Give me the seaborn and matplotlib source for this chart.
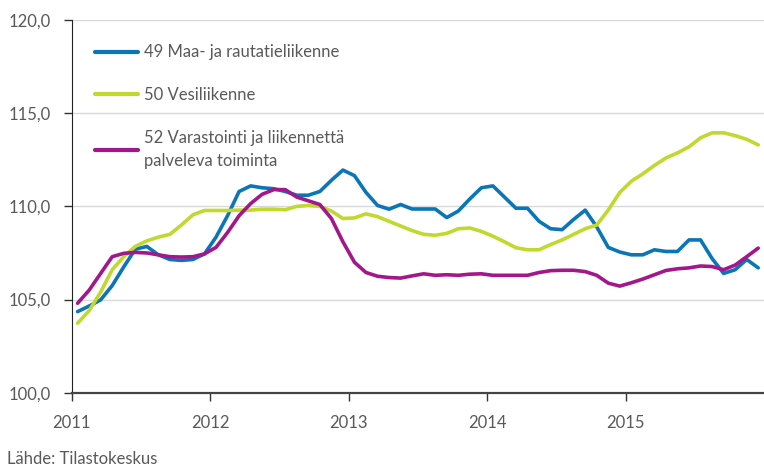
import numpy as np
import pandas as pd
import matplotlib
matplotlib.use("Agg")
import matplotlib.pyplot as plt
import seaborn as sns

# monthly index values 2011-01 ... 2015-12
months = pd.date_range("2011-01-01", periods=60, freq="MS")
labels = ["49 Maa- ja rautatieliikenne",
          "50 Vesiliikenne",
          "52 Varastointi ja liikennettä\npalveleva toiminta"]
colors = ["#0a76b8", "#c1d82f", "#a4168b"]

maa = [104.35, 104.65, 104.98, 105.75, 106.75, 107.7, 107.85, 107.4, 107.15, 107.1,
       107.15, 107.45, 108.35, 109.5, 110.8, 111.1, 111.0, 110.95, 110.8, 110.6,
       110.6, 110.8, 111.4, 111.95, 111.65, 110.75, 110.05, 109.85, 110.1, 109.86,
       109.86, 109.86, 109.4, 109.75, 110.4, 111.0, 111.1, 110.5, 109.9, 109.9,
       109.2, 108.8, 108.75, 109.3, 109.8, 108.9, 107.8, 107.55, 107.4, 107.4,
       107.67, 107.58, 107.58, 108.2, 108.2, 107.2, 106.4, 106.6, 107.15, 106.7]
vesi = [103.73, 104.4, 105.4, 106.6, 107.3, 107.85, 108.15, 108.35, 108.5, 109.0,
        109.55, 109.78, 109.78, 109.78, 109.8, 109.8, 109.85, 109.85, 109.82, 110.0,
        110.05, 110.0, 109.75, 109.35, 109.38, 109.6, 109.45, 109.2, 108.95, 108.7,
        108.5, 108.45, 108.55, 108.8, 108.84, 108.66, 108.4, 108.1, 107.78, 107.67,
        107.67, 107.95, 108.2, 108.5, 108.8, 109.0, 109.8, 110.75, 111.35, 111.75,
        112.2, 112.6, 112.87, 113.2, 113.68, 113.95, 113.95, 113.8, 113.6, 113.3]
varasto = [104.8, 105.5, 106.4, 107.3, 107.48, 107.53, 107.5, 107.4, 107.3, 107.28,
           107.3, 107.45, 107.8, 108.6, 109.5, 110.15, 110.65, 110.9, 110.9, 110.5,
           110.3, 110.1, 109.35, 108.1, 107.0, 106.45, 106.25, 106.18, 106.15, 106.27,
           106.38, 106.3, 106.33, 106.3, 106.36, 106.38, 106.3, 106.3, 106.3, 106.3,
           106.45, 106.55, 106.57, 106.57, 106.5, 106.3, 105.88, 105.72, 105.9, 106.1,
           106.33, 106.56, 106.65, 106.7, 106.8, 106.77, 106.6, 106.85, 107.3, 107.76]

years = ["2011", "2012", "2013", "2014", "2015"]
yticks = [100, 105, 110, 115, 120]

df = pd.DataFrame({"kk": np.arange(len(months)) + 0.5,
                   labels[0]: maa, labels[1]: vesi, labels[2]: varasto})
long = df.melt(id_vars="kk", var_name="sarja", value_name="indeksi")

sns.set_style("white")
plt.rcParams["font.family"] = ["Lato", "DejaVu Sans"]
grey = "#595959"

fig = plt.figure(figsize=(7.64, 4.68), dpi=100)
ax = fig.add_axes([0.094, 0.161, 0.906, 0.796])

sns.lineplot(data=long, x="kk", y="indeksi", hue="sarja", palette=colors,
             linewidth=2.6, ax=ax)

ax.set_xlim(0, 60)
ax.set_ylim(100, 120)
ax.set_xticks(np.arange(0, 60, 12))
ax.set_xticklabels(years)
ax.set_yticks(yticks)
ax.set_yticklabels([f"{v},0" for v in yticks])
ax.set_xlabel("")
ax.set_ylabel("")
ax.grid(axis="y", color="#d9d9d9", linewidth=1)
ax.set_axisbelow(True)
for s in ["top", "right"]:
    ax.spines[s].set_visible(False)
ax.spines["left"].set_color("#222222")
ax.spines["bottom"].set_color("#444444")
ax.spines["bottom"].set_linewidth(1.6)
ax.tick_params(axis="both", colors=grey, labelsize=12, length=6, width=1,
               direction="out", bottom=True, left=True)
ax.tick_params(axis="x", pad=10)
ax.tick_params(axis="y", pad=9)
ax.tick_params(axis="both", color="#333333")

leg = ax.legend(title=None, frameon=False, loc="upper left",
                bbox_to_anchor=(0.012, 0.975), fontsize=12,
                handlelength=2.55, handletextpad=0.4, labelspacing=1.6)
for t in leg.get_texts():
    t.set_color(grey)
    t.set_linespacing(1.55)
for h in leg.get_lines():
    h.set_linewidth(3)

fig.text(0.009, 0.008, "Lähde: Tilastokeskus", color=grey, fontsize=12)

fig.savefig("out.png", dpi=100)
